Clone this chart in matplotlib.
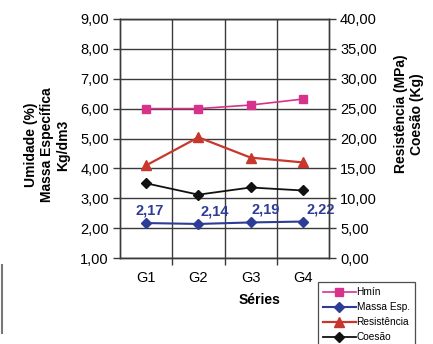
import matplotlib
matplotlib.use("Agg")
import matplotlib.pyplot as plt
from matplotlib.lines import Line2D
from matplotlib.ticker import FuncFormatter, FixedLocator

plt.rcParams['font.family'] = ['Liberation Sans', 'DejaVu Sans']

# Data
series = ["G1", "G2", "G3", "G4"]
hmin = [6.00, 6.00, 6.12, 6.32]
massa_esp = [2.17, 2.14, 2.19, 2.22]
resistencia = [15.5, 20.2, 16.8, 16.0]
coesao = [12.5, 10.6, 11.8, 11.3]
massa_labels = ["2,17", "2,14", "2,19", "2,22"]

W, H = 433, 344
fig = plt.figure(figsize=(W / 100, H / 100), dpi=100)
fig.patch.set_facecolor("white")

# axes box in pixel coordinates
x0, x1, ytop, ybot = 120, 329, 19, 258
ax = fig.add_axes([x0 / W, 1 - ybot / H, (x1 - x0) / W, (ybot - ytop) / H])
ax2 = ax.twinx()

xs = list(range(len(series)))
grid_c = "#3a3a3a"

# left axis: moisture and specific mass
ax.set_xlim(-0.5, len(series) - 0.5)
ax.set_ylim(1, 9)
ax.set_yticks(range(1, 10))
ax.yaxis.set_major_formatter(FuncFormatter(lambda v, p: f"{v:.2f}".replace(".", ",")))
ax.set_xticks(xs)
ax.set_xticklabels(series)
ax.xaxis.set_minor_locator(FixedLocator([0.5, 1.5, 2.5]))
ax.tick_params(axis="x", which="major", length=0, pad=9, labelsize=10.5)
ax.tick_params(axis="x", which="minor", length=5, width=1, color=grid_c)
ax.tick_params(axis="y", length=5, width=1, color=grid_c, labelsize=10.5, pad=3)
ax.grid(axis="y", color=grid_c, linewidth=1)
ax.grid(axis="x", which="minor", color=grid_c, linewidth=1)
ax.set_axisbelow(True)
for s in ax.spines.values():
    s.set_color(grid_c)
    s.set_linewidth(1)

# right axis: strength and cohesion
ax2.set_ylim(0, 40)
ax2.set_yticks(range(0, 41, 5))
ax2.yaxis.set_major_formatter(FuncFormatter(lambda v, p: f"{v:.2f}".replace(".", ",")))
ax2.tick_params(axis="y", length=5, width=1, color=grid_c, labelsize=10.5, pad=3)
for s in ax2.spines.values():
    s.set_color(grid_c)
    s.set_linewidth(1)

c_hmin = "#d8338c"
c_massa = "#2d3c94"
c_res = "#c8372d"
c_coe = "#111111"

l1, = ax.plot(xs, hmin, color=c_hmin, marker="s", markersize=6, linewidth=1.2, label="Hmín")
l2, = ax.plot(xs, massa_esp, color=c_massa, marker="D", markersize=5, linewidth=1.5, label="Massa Esp.")
l3, = ax2.plot(xs, resistencia, color=c_res, marker="^", markersize=7, linewidth=1.6, label="Resistência")
l4, = ax2.plot(xs, coesao, color=c_coe, marker="D", markersize=5, linewidth=1.3, label="Coesão")

offsets = [4, 16, 15, 18]
for x, v, t, dx in zip(xs, massa_esp, massa_labels, offsets):
    ax.annotate(t, (x, v), xytext=(dx * 0.72, 9), textcoords="offset points",
                ha="center", va="center", color=c_massa, fontsize=10.5, fontweight="bold")

# axis titles
fig.text(47 / W, 1 - 145 / H, "Umidade (%)\nMassa Específica\nKg/dm3", rotation=90,
         ha="center", va="center", fontsize=10, fontweight="bold", linespacing=1.15)
fig.text(409 / W, 1 - 114 / H, "Resistência (MPa)\nCoesão (Kg)", rotation=90,
         ha="center", va="center", fontsize=10, fontweight="bold", linespacing=1.2)
fig.text(260 / W, 1 - 300 / H, "Séries", ha="center", va="center",
         fontsize=10, fontweight="bold")

leg = fig.legend(handles=[l1, l2, l3, l4], loc="upper left",
                 bbox_to_anchor=(318 / W, 1 - 282 / H), fontsize=7.3,
                 frameon=True, fancybox=False, handlelength=3.2, handletextpad=0.1,
                 borderpad=0.5, labelspacing=0.5, borderaxespad=0)
leg.get_frame().set_edgecolor("#222222")
leg.get_frame().set_linewidth(0.9)

# left frame edge from neighbouring box
fig.add_artist(Line2D([1.5 / W, 1.5 / W], [1 - 265 / H, 1 - 333 / H],
                      transform=fig.transFigure, color="#777777", linewidth=1.5))

fig.savefig("out.png", dpi=100)
